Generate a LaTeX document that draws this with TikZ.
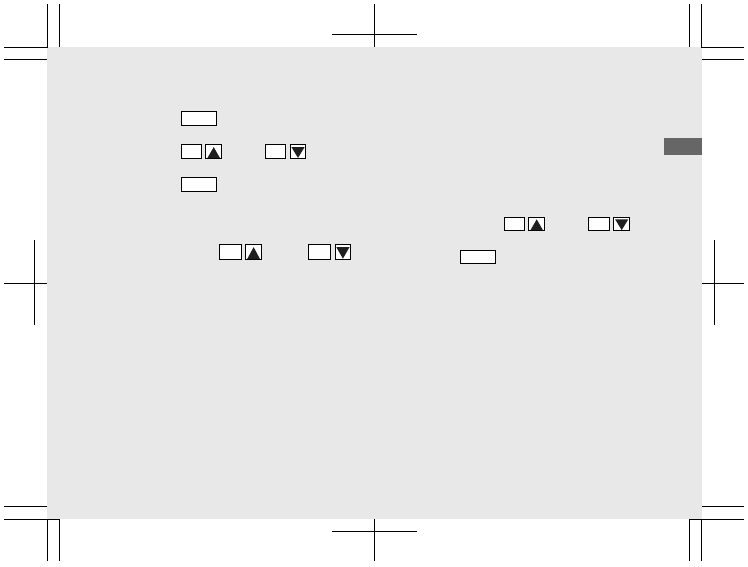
\documentclass[tikz,border=0pt]{standalone}
\usepackage{tikz}
\usetikzlibrary{positioning}

\begin{document}
\begin{tikzpicture}[x=1pt, y=-1pt,
                page/.style={fill=black!9, draw=none},
                tab/.style={fill=black!60, draw=none},
                crop/.style={line width=1pt, black},
                menukey/.style={draw, line width=1pt, fill=white, inner sep=0pt, anchor=north west,
                               minimum width=34.7pt, minimum height=13.7pt},
                sidekey/.style={draw, line width=1pt, fill=white, inner sep=0pt, anchor=north west,
                               minimum width=20pt, minimum height=13.6pt},
                arrowkey/.style={draw, line width=1pt, fill=white, inner sep=0pt,
                               minimum width=15.8pt, minimum height=13.6pt},
                wedge/.style={fill=black!88, draw=none}]

                \useasboundingbox (0,0) rectangle (748,566);

                % Grey page and thumb tab
                \fill[page] (47,47) rectangle (702,519);
                \fill[tab] (664,138) rectangle (702,155);

                % Corner crop marks
                \draw[crop] (47.5,4) -- (47.5,47.5) -- (4,47.5);
                \draw[crop] (59.5,4) -- (59.5,47);
                \draw[crop] (4,59.5) -- (47,59.5);
                \draw[crop] (689.5,4) -- (689.5,47);
                \draw[crop] (701.5,4) -- (701.5,47.5) -- (744,47.5);
                \draw[crop] (702,59.5) -- (744,59.5);
                \draw[crop] (4,506) -- (47,506);
                \draw[crop] (4,519.5) -- (59.5,519.5) -- (59.5,561);
                \draw[crop] (47.5,519.5) -- (47.5,561);
                \draw[crop] (702,506) -- (744,506);
                \draw[crop] (744,519.5) -- (689.5,519.5) -- (689.5,561);
                \draw[crop] (701.5,519.5) -- (701.5,561);

                % Centre crop marks
                \draw[crop] (374.5,4) -- (374.5,47);
                \draw[crop] (332,34) -- (417,34);
                \draw[crop] (374.5,519) -- (374.5,561);
                \draw[crop] (332,531.5) -- (417,531.5);
                \draw[crop] (34,240) -- (34,325);
                \draw[crop] (4,283) -- (47,283);
                \draw[crop] (714.5,240) -- (714.5,325);
                \draw[crop] (702,283) -- (744,283);

                % Left column keys
                \node[menukey] (menua) at (181,111) {};
                \node[sidekey] (sidea) at (181,144.3) {};
                \node[arrowkey, right=3.3pt of sidea] (upa) {};
                \node[sidekey] (sideb) at (265.3,144.3) {};
                \node[arrowkey, right=3.3pt of sideb] (downa) {};
                \node[menukey] (menub) at (181,177) {};

                \node[sidekey, minimum width=21.7pt, minimum height=14.4pt] (sidec) at (219,244.3) {};
                \node[arrowkey, minimum height=14.4pt, right=3.5pt of sidec] (upb) {};
                \node[sidekey, minimum width=21.7pt, minimum height=14.4pt] (sided) at (308.3,244.3) {};
                \node[arrowkey, minimum height=14.4pt, right=3.5pt of sided] (downb) {};

                % Right column keys
                \node[sidekey] (sidee) at (504,216.5) {};
                \node[arrowkey, right=3.3pt of sidee] (upc) {};
                \node[sidekey, minimum width=20.7pt] (sidef) at (588.3,216.5) {};
                \node[arrowkey, right=3.3pt of sidef] (downc) {};
                \node[menukey] (menuc) at (460,249.5) {};

                % Triangles inside the arrow keys
                \fill[wedge] ([xshift=2pt,yshift=0.7pt]upa.south west) -- ([xshift=-2pt,yshift=0.7pt]upa.south east) -- ([yshift=-2.8pt]upa.north) -- cycle;
                \fill[wedge] ([xshift=1.8pt,yshift=-2.8pt]downa.north west) -- ([xshift=-1.8pt,yshift=-2.8pt]downa.north east) -- ([yshift=1pt]downa.south) -- cycle;
                \fill[wedge] ([xshift=2pt,yshift=0.7pt]upb.south west) -- ([xshift=-2pt,yshift=0.7pt]upb.south east) -- ([yshift=-2.8pt]upb.north) -- cycle;
                \fill[wedge] ([xshift=1.8pt,yshift=-2.8pt]downb.north west) -- ([xshift=-1.8pt,yshift=-2.8pt]downb.north east) -- ([yshift=1pt]downb.south) -- cycle;
                \fill[wedge] ([xshift=2pt,yshift=0.7pt]upc.south west) -- ([xshift=-2pt,yshift=0.7pt]upc.south east) -- ([yshift=-2.8pt]upc.north) -- cycle;
                \fill[wedge] ([xshift=1.8pt,yshift=-2.8pt]downc.north west) -- ([xshift=-1.8pt,yshift=-2.8pt]downc.north east) -- ([yshift=1pt]downc.south) -- cycle;
            \end{tikzpicture}
\end{document}
